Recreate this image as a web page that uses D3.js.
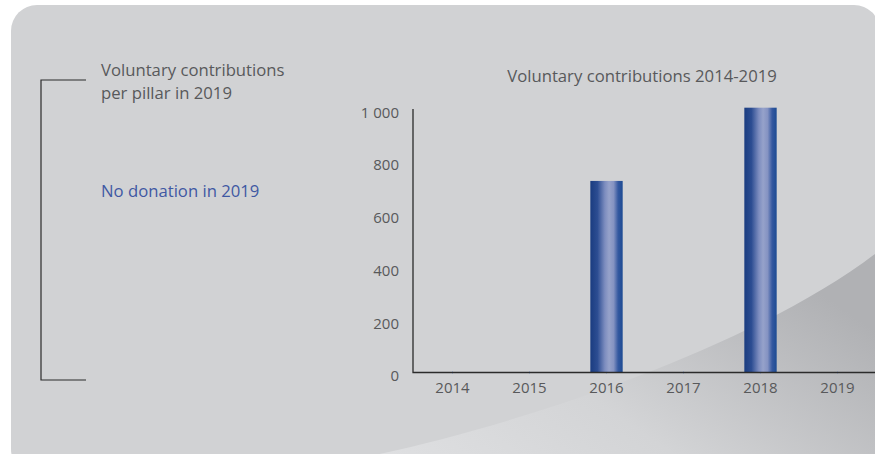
<!DOCTYPE html>
<html>
<head>
<meta charset="utf-8">
<script src="https://cdn.jsdelivr.net/npm/d3@7"></script>
<style>
  html, body { margin: 0; padding: 0; background: #ffffff; }
  svg { display: block; }
  text { font-family: "Open Sans", sans-serif; }
</style>
</head>
<body>
<div id="chart"></div>
<script>
// ---- data ----
const years = ["2014", "2015", "2016", "2017", "2018", "2019"];
const contributions = [0, 0, 727, 0, 1005, 0];
const yTicks = [0, 200, 400, 600, 800, 1000];
const chartTitle = "Voluntary contributions 2014-2019";
const sideTitle = ["Voluntary contributions", "per pillar in 2019"];
const sideNote = "No donation in 2019";

const W = 875, H = 454;
const svg = d3.select("#chart").append("svg").attr("width", W).attr("height", H);
const defs = svg.append("defs");

// panel background
const panelGrad = defs.append("linearGradient").attr("id", "swoosh")
  .attr("x1", "0%").attr("y1", "100%").attr("x2", "100%").attr("y2", "40%");
panelGrad.append("stop").attr("offset", "0%").attr("stop-color", "#dfe0e2");
panelGrad.append("stop").attr("offset", "45%").attr("stop-color", "#d3d4d6");
panelGrad.append("stop").attr("offset", "100%").attr("stop-color", "#b0b1b4");

const barGrad = defs.append("linearGradient").attr("id", "bar")
  .attr("x1", "0%").attr("y1", "0%").attr("x2", "100%").attr("y2", "0%");
[["0%", "#1a3c80"], ["22%", "#2c4d92"], ["45%", "#7d8dbf"], ["58%", "#96a2ca"], ["72%", "#8593c2"], ["86%", "#3458a0"], ["100%", "#1c4b93"]]
  .forEach(([o, c]) => barGrad.append("stop").attr("offset", o).attr("stop-color", c));

defs.append("clipPath").attr("id", "panelClip")
  .append("rect").attr("x", 11).attr("y", 5).attr("width", 869).attr("height", 470).attr("rx", 26);

const panel = svg.append("g").attr("clip-path", "url(#panelClip)");
panel.append("rect").attr("x", 11).attr("y", 5).attr("width", 869).attr("height", 470).attr("fill", "#d1d2d4");
panel.append("path")
  .attr("d", "M 370 456 C 520 425, 760 345, 880 250 L 880 460 L 370 460 Z")
  .attr("fill", "url(#swoosh)");

// ---- left bracket + texts ----
const textGray = "#58595b";
const fs = 16.7;
svg.append("path")
  .attr("d", "M 86 80 H 41 V 380 H 86")
  .attr("fill", "none").attr("stroke", "#2b2b2b").attr("stroke-width", 1.2);

svg.append("text").attr("x", 101).attr("y", 76)
  .attr("font-size", fs).attr("fill", textGray).text(sideTitle[0]);
svg.append("text").attr("x", 101).attr("y", 98.5)
  .attr("font-size", fs).attr("fill", textGray).text(sideTitle[1]);
svg.append("text").attr("x", 101).attr("y", 197)
  .attr("font-size", fs).attr("fill", "#3f58a3").text(sideNote);

// ---- chart ----
const x0 = 414, x1 = 876, yTop = 109, yBase = 372.5;
const x = d3.scaleBand().domain(years).range([x0, x1]).paddingInner(0.58).paddingOuter(0.29);
const y = d3.scaleLinear().domain([0, 1000]).range([yBase, yTop]);

svg.append("text").attr("x", 642).attr("y", 82.3).attr("text-anchor", "middle")
  .attr("font-size", fs).attr("fill", textGray).text(chartTitle);

const fmt = d => d >= 1000 ? d3.format(",")(d).replace(",", " ") : String(d);

const yAxis = svg.append("g").attr("transform", `translate(${x0 - 1},0)`)
  .call(d3.axisLeft(y).tickValues(yTicks).tickSize(0).tickPadding(14).tickFormat(fmt));
yAxis.select(".domain").remove();
yAxis.selectAll("text").attr("font-size", 15).attr("fill", textGray)
  .attr("font-family", "'Open Sans', sans-serif").attr("dy", "0.55em");

// bars
svg.append("g").selectAll("rect")
  .data(years.map((yr, i) => ({ yr, v: contributions[i] })).filter(d => d.v > 0))
  .join("rect")
  .attr("x", d => x(d.yr))
  .attr("y", d => y(d.v))
  .attr("width", x.bandwidth())
  .attr("height", d => yBase - y(d.v))
  .attr("fill", "url(#bar)");

const xAxis = svg.append("g").attr("transform", `translate(0,${yBase})`)
  .call(d3.axisBottom(x).tickSize(2).tickPadding(8).tickSizeOuter(0));
xAxis.select(".domain").remove();
xAxis.selectAll(".tick line").attr("stroke", "#6f8fd0").attr("stroke-width", 0.8).attr("transform", "translate(0,-1)");
xAxis.selectAll("text").attr("font-size", 15).attr("fill", textGray)
  .attr("font-family", "'Open Sans', sans-serif");

// axis lines
svg.append("path")
  .attr("d", `M ${x0 - 1} ${yTop} V ${yBase} H ${W}`)
  .attr("fill", "none").attr("stroke", "#2b2b2b").attr("stroke-width", 1.3);
</script>
</body>
</html>
